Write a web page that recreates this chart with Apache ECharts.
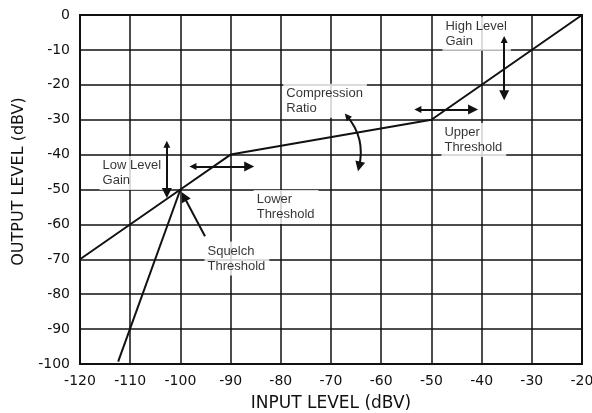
<!DOCTYPE html>
<html>
<head>
<meta charset="utf-8">
<script src="https://cdn.jsdelivr.net/npm/echarts@6/dist/echarts.min.js"></script>
<style>
  html, body { margin: 0; padding: 0; background: #fff; }
  #chart { width: 592px; height: 413px; }
</style>
</head>
<body>
<div id="chart"></div>
<script>
// transfer curve: low level gain, compression, high level gain
var transferCurve = [[-120, -70], [-100, -50], [-90, -40], [-50, -30], [-20, 0]];
// squelch (expansion) segment below the squelch threshold
var squelchLine = [[-112.4, -99.3], [-100, -50]];

// double-headed adjustment arrows [from, to]
var arrowLowGain = [[-102.7, -37], [-102.7, -51]];
var arrowLowerThr = [[-97.5, -43.4], [-86.3, -43.4]];
var arrowUpperThr = [[-52.7, -27.1], [-41.7, -27.1]];
var arrowHighGain = [[-35.5, -7], [-35.5, -23]];
var arrowRatio = [[-66.8, -29], [-64.4, -43.4]];
// single pointer to the squelch threshold
var pointerSquelch = [[-95.1, -63.4], [-99.3, -52]];

// annotation text [x, y, text]
var notes = [
  [-116.2, -45.3, 'Low Level\nGain'],
  [-79.6, -24.6, 'Compression\nRatio'],
  [-47.9, -5.4, 'High Level\nGain'],
  [-48.1, -35.8, 'Upper\nThreshold'],
  [-95.3, -69.8, 'Squelch\nThreshold'],
  [-85.5, -55.0, 'Lower\nThreshold']
];

var xMin = -120, xMax = -20, yMin = -100, yMax = 0, step = 10;

var chart = echarts.init(document.getElementById('chart'), null, { renderer: 'canvas' });
var ink = '#111';
var noteFont = 'Liberation Sans, Arial, Helvetica, sans-serif';
var axisFont = 'DejaVu Sans, sans-serif';

chart.setOption({
  animation: false,
  grid: {
    left: 80, right: 10, top: 15, bottom: 49,
    outerBoundsMode: 'none',
    show: true, borderColor: ink, borderWidth: 2
  },
  xAxis: {
    type: 'value', min: xMin, max: xMax, interval: step,
    name: 'INPUT LEVEL (dBV)', nameLocation: 'middle', nameGap: 31,
    nameTextStyle: { color: ink, fontSize: 17, fontFamily: axisFont },
    axisLine: { show: true, onZero: false, lineStyle: { color: ink, width: 2 } },
    axisTick: { show: false },
    axisLabel: { color: ink, fontSize: 14, margin: 10, fontFamily: axisFont },
    splitLine: { show: true, lineStyle: { color: ink, width: 1.5 } }
  },
  yAxis: {
    type: 'value', min: yMin, max: yMax, interval: step,
    name: 'OUTPUT LEVEL (dBV)', nameLocation: 'middle', nameGap: 51,
    nameTextStyle: { color: ink, fontSize: 16, fontFamily: axisFont, padding: [0, 0, 0, 16] },
    axisLine: { show: true, onZero: false, lineStyle: { color: ink, width: 2 } },
    axisTick: { show: false },
    axisLabel: { color: ink, fontSize: 14, margin: 10, fontFamily: axisFont },
    splitLine: { show: true, lineStyle: { color: ink, width: 1.5 } }
  },
  series: [
    {
      type: 'scatter', z: 1,
      symbolSize: 1,
      itemStyle: { color: 'rgba(0,0,0,0)' },
      data: notes.map(function (n) { return { value: [n[0], n[1]], name: n[2] }; }),
      label: {
        show: true, position: 'right', distance: 0, align: 'left', verticalAlign: 'middle',
        formatter: function (p) { return p.name; },
        color: '#000', fontSize: 13, lineHeight: 15, fontFamily: noteFont,
        textBorderWidth: 0,
        backgroundColor: '#fff', padding: [2, 4, 2, 3]
      },
      silent: true
    },
    {
      type: 'line', z: 5, data: transferCurve, symbol: 'none',
      lineStyle: { color: ink, width: 2 }
    },
    {
      type: 'line', z: 5, data: squelchLine, symbol: 'none',
      lineStyle: { color: ink, width: 2 }
    },
    {
      type: 'lines', z: 6, coordinateSystem: 'cartesian2d',
      symbol: ['triangle', 'triangle'], symbolSize: [7, 10],
      lineStyle: { color: ink, width: 2, opacity: 1 },
      data: [
        { coords: arrowLowGain },
        { coords: arrowLowerThr },
        { coords: arrowUpperThr },
        { coords: arrowHighGain },
        { coords: arrowRatio, lineStyle: { curveness: 0.25 } }
      ]
    },
    {
      type: 'lines', z: 6, coordinateSystem: 'cartesian2d',
      symbol: ['none', 'triangle'], symbolSize: [7, 10],
      lineStyle: { color: ink, width: 2, opacity: 1 },
      data: [{ coords: pointerSquelch }]
    }
  ]
});
window.addEventListener('resize', function () { chart.resize(); });
</script>
</body>
</html>
